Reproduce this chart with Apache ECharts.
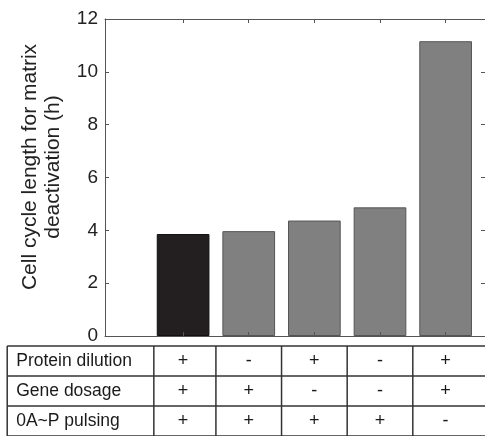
<!DOCTYPE html>
<html>
<head>
<meta charset="utf-8">
<script src="https://cdn.jsdelivr.net/npm/echarts@6/dist/echarts.min.js"></script>
<style>
html,body{margin:0;padding:0;background:#fff;}
#chart{width:485px;height:436px;}
</style>
</head>
<body>
<div id="chart"></div>
<script>
// ---- data ----
var conditions = [1, 2, 3, 4, 5];
var cycleLength = [3.86, 3.97, 4.37, 4.87, 11.16];
var yTicks = [0, 2, 4, 6, 8, 10, 12];
var rowLabels = ['Protein dilution', 'Gene dosage', '0A~P pulsing'];
var proteinDilution = ['+', '-', '+', '-', '+'];
var geneDosage = ['+', '+', '-', '-', '+'];
var pulsing = ['+', '+', '+', '+', '-'];
var yTitle = 'Cell cycle length for matrix\ndeactivation (h)';

var FONT = '"Liberation Sans", Arial, Helvetica, sans-serif';
var tableRows = [proteinDilution, geneDosage, pulsing];

var chart = echarts.init(document.getElementById('chart'), null, {renderer: 'canvas'});

var XMIN = -0.19, XMAX = 5.6;
var axisColor = '#555';

var barData = conditions.map(function (c, i) {
  return {
    value: [c, cycleLength[i]],
    itemStyle: i === 0
      ? {color: '#231f20', borderColor: '#111', borderWidth: 1}
      : {color: '#808080', borderColor: '#555', borderWidth: 1}
  };
});

function renderTable(params, api) {
  if (params.dataIndex !== 0) return null;
  var children = [];
  var leftX = -1.68, rightX = 6.2;
  var colEdges = [leftX, 0.554, 1.5, 2.5, 3.5, 4.5];
  var lineStyle = {stroke: '#333', lineWidth: 1.5};
  for (var r = 0; r <= rowLabels.length; r++) {
    var p1 = api.coord([leftX, r]);
    var p2 = api.coord([rightX, r]);
    children.push({type: 'line', shape: {x1: p1[0], y1: p1[1], x2: p2[0], y2: p2[1]}, style: lineStyle});
  }
  colEdges.forEach(function (cx) {
    var a = api.coord([cx, 0]);
    var b = api.coord([cx, rowLabels.length + 0.2]);
    children.push({type: 'line', shape: {x1: a[0], y1: a[1], x2: b[0], y2: b[1]}, style: lineStyle});
  });
  rowLabels.forEach(function (lab, r) {
    var p = api.coord([leftX, r + 0.5]);
    children.push({type: 'text', x: p[0] + 9, y: p[1], style: {
      text: lab, fill: '#1a1a1a', font: '17.5px ' + FONT, textAlign: 'left', textVerticalAlign: 'middle'}});
    tableRows[r].forEach(function (s, ci) {
      var q = api.coord([conditions[ci], r + 0.5]);
      children.push({type: 'text', x: q[0], y: q[1], style: {
        text: s, fill: '#1a1a1a', font: '18px ' + FONT, textAlign: 'center', textVerticalAlign: 'middle'}});
    });
  });
  return {type: 'group', children: children};
}

var option = {
  animation: false,
  backgroundColor: '#fff',
  textStyle: {fontFamily: FONT},
  grid: [
    {left: 105, top: 19, width: 381.7, height: 317, containLabel: false},
    {left: 105, top: 346, width: 381.7, height: 93, containLabel: false}
  ],
  xAxis: [
    {type: 'value', gridIndex: 0, min: XMIN, max: XMAX, position: 'bottom', z: 5,
     axisLine: {show: true, onZero: false, lineStyle: {color: axisColor, width: 1}},
     axisTick: {show: true, inside: true, length: 4, customValues: conditions, lineStyle: {color: axisColor}},
     axisLabel: {show: false}, splitLine: {show: false}},
    {type: 'value', gridIndex: 0, min: XMIN, max: XMAX, position: 'top', z: 5,
     axisLine: {show: true, onZero: false, lineStyle: {color: axisColor, width: 1}},
     axisTick: {show: true, inside: true, length: 4, customValues: conditions, lineStyle: {color: axisColor}},
     axisLabel: {show: false}, splitLine: {show: false}},
    {type: 'value', gridIndex: 1, min: XMIN, max: XMAX, show: false}
  ],
  yAxis: [
    {type: 'value', gridIndex: 0, min: 0, max: 12, interval: 2, position: 'left', z: 5,
     axisLine: {show: true, onZero: false, lineStyle: {color: axisColor, width: 1}},
     axisTick: {show: true, inside: true, length: 4, lineStyle: {color: axisColor}},
     axisLabel: {show: true, margin: 7, color: '#222', fontSize: 19, fontFamily: FONT,
       customValues: yTicks},
     splitLine: {show: false}},
    {type: 'value', gridIndex: 0, min: 0, max: 12, interval: 2, position: 'right', z: 5,
     axisLine: {show: true, onZero: false, lineStyle: {color: axisColor, width: 1}},
     axisTick: {show: true, inside: true, length: 4, lineStyle: {color: axisColor}},
     axisLabel: {show: false}, splitLine: {show: false}},
    {type: 'value', gridIndex: 1, min: 0, max: 3, inverse: true, show: false}
  ],
  graphic: [
    {type: 'text', x: 42, y: 167, rotation: Math.PI / 2,
     style: {text: yTitle, fill: '#222', font: '21px ' + FONT, textAlign: 'center',
       textVerticalAlign: 'middle', lineHeight: 23}}
  ],
  series: [
    {type: 'bar', xAxisIndex: 0, yAxisIndex: 0, barWidth: 52.7, data: barData},
    {type: 'custom', xAxisIndex: 2, yAxisIndex: 2, clip: false, renderItem: renderTable,
     data: [[0, 0]], silent: true}
  ]
};
chart.setOption(option);
</script>
</body>
</html>
